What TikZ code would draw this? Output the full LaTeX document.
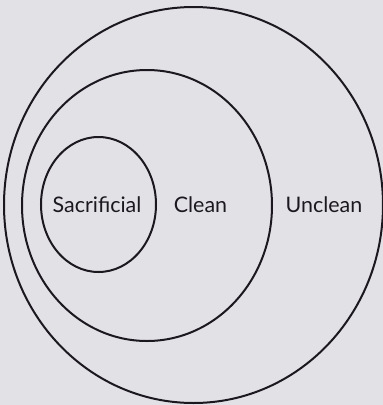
\documentclass[tikz,border=0pt]{standalone}
\usepackage{fontspec}
\setmainfont{Lato}
\definecolor{paper}{RGB}{226,226,230}
\definecolor{ink}{RGB}{28,24,32}
\begin{document}
\begin{tikzpicture}[x=1bp,y=-1bp,
  ring/.style={draw=ink,line width=2bp},
  lbl/.style={text=ink,font=\fontsize{21.5}{24}\selectfont,inner sep=0pt,anchor=base}]
\fill[paper] (0,0) rectangle (383,405);
\useasboundingbox (0,0) rectangle (383,405);
\draw[ring] (193.5,205) ellipse [x radius=189.5, y radius=198];
\draw[ring] (147,205.5) ellipse [x radius=125, y radius=135.5];
\draw[ring] (98.5,204.5) ellipse [x radius=57.5, y radius=67.5];
\node[lbl] (sac) at (97,212) {Sacrificial};
\node[lbl] (cln) at (200.5,212) {Clean};
\node[lbl] (unc) at (324,212) {Unclean};
\end{tikzpicture}
\end{document}
